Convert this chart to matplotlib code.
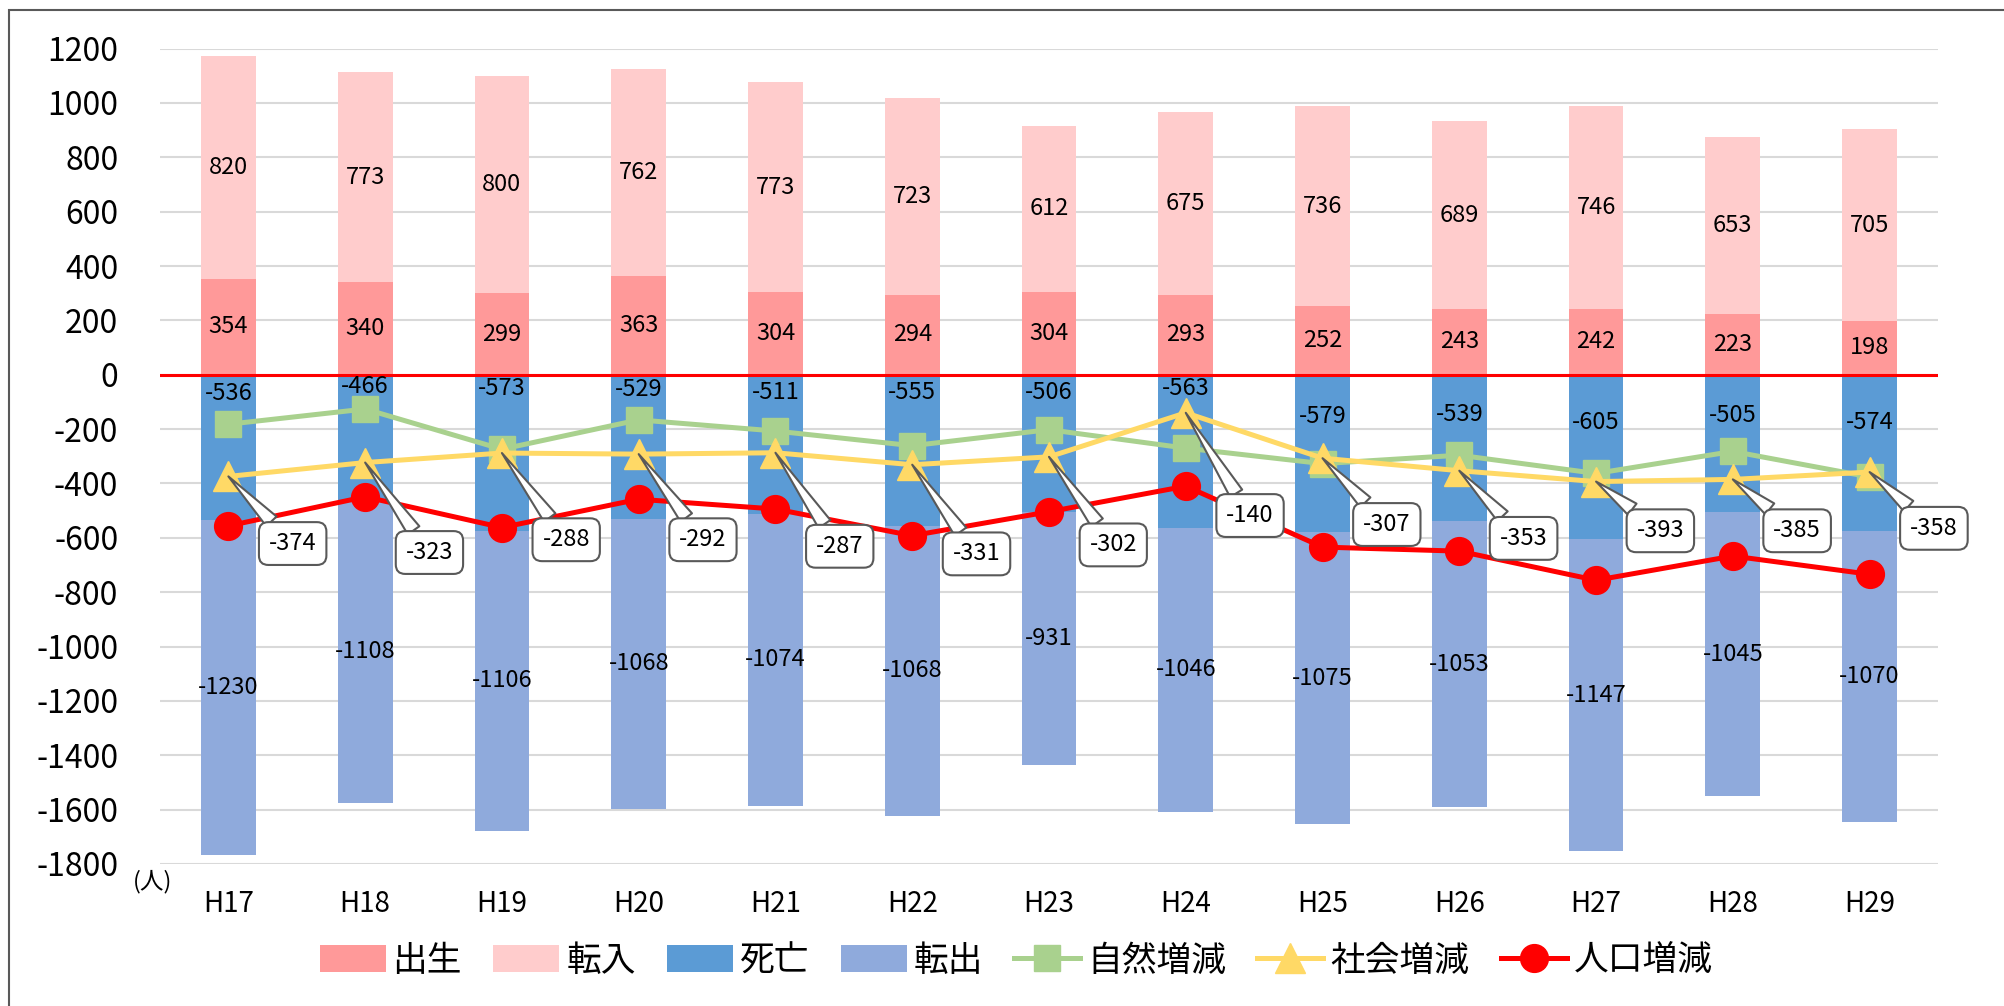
import matplotlib
matplotlib.use('Agg')
import matplotlib.pyplot as plt
from matplotlib.patches import Rectangle

plt.rcParams['font.family'] = ['Noto Sans CJK JP', 'DejaVu Sans']
plt.rcParams['axes.unicode_minus'] = False

# data (人)
years = ['H17', 'H18', 'H19', 'H20', 'H21', 'H22', 'H23', 'H24', 'H25', 'H26', 'H27', 'H28', 'H29']
birth = [354, 340, 299, 363, 304, 294, 304, 293, 252, 243, 242, 223, 198]
move_in = [820, 773, 800, 762, 773, 723, 612, 675, 736, 689, 746, 653, 705]
death = [-536, -466, -573, -529, -511, -555, -506, -563, -579, -539, -605, -505, -574]
move_out = [-1230, -1108, -1106, -1068, -1074, -1068, -931, -1046, -1075, -1053, -1147, -1045, -1070]
natural = [-182, -126, -274, -166, -207, -261, -202, -270, -327, -296, -363, -282, -376]
social = [-374, -323, -288, -292, -287, -331, -302, -140, -307, -353, -393, -385, -358]
population = [-556, -449, -562, -458, -494, -592, -504, -410, -634, -649, -756, -667, -734]

# label placement (layout only)
death_label_y = [-70, -44, -50, -56, -66, -66, -66, -52, -155, -146, -176, -150, -175]
callout_y = [-621, -654, -607, -607, -631, -659, -626, -518, -551, -602, -574, -574, -565]
callout_dx = 0.47

C_BIRTH = '#FF9999'
C_IN = '#FFCCCC'
C_DEATH = '#5B9BD5'
C_OUT = '#8FAADC'
C_NAT = '#A9D18E'
C_SOC = '#FFD966'
C_POP = '#FF0000'

fig = plt.figure(figsize=(20.04, 10.06), dpi=100)
ax = fig.add_axes([160 / 2004, 1 - 864 / 1006, (1938 - 160) / 2004, (864 - 48.6) / 1006])

x = list(range(len(years)))
w = 0.40
handles = []
handles.append(ax.bar(x, birth, w, color=C_BIRTH, label='出生', zorder=2))
handles.append(ax.bar(x, move_in, w, bottom=birth, color=C_IN, label='転入', zorder=2))
handles.append(ax.bar(x, death, w, color=C_DEATH, label='死亡', zorder=2))
handles.append(ax.bar(x, move_out, w, bottom=death, color=C_OUT, label='転出', zorder=2))

ax.axhline(0, color='#FF0000', lw=2.2, zorder=2.5)

handles += ax.plot(x, natural, color=C_NAT, lw=3.6, marker='s', ms=19, label='自然増減', zorder=3)
handles += ax.plot(x, social, color=C_SOC, lw=3.6, marker='^', ms=21, label='社会増減', zorder=3.1)
handles += ax.plot(x, population, color=C_POP, lw=3.6, marker='o', ms=20, label='人口増減', zorder=3.2)

# bar labels
for i in x:
    ax.text(i, birth[i] / 2, str(birth[i]), ha='center', va='center', fontsize=17, zorder=5)
    ax.text(i, birth[i] + move_in[i] / 2, str(move_in[i]), ha='center', va='center', fontsize=17, zorder=5)
    ax.text(i, death_label_y[i], str(death[i]), ha='center', va='center', fontsize=17, zorder=5)
    ax.text(i, death[i] + move_out[i] / 2, str(move_out[i]), ha='center', va='center', fontsize=17, zorder=5)

# callouts for 社会増減
for i in x:
    ax.annotate(str(social[i]), xy=(i, social[i]), xytext=(i + callout_dx, callout_y[i]),
                ha='center', va='center', fontsize=17, zorder=6,
                bbox=dict(boxstyle='round,pad=0.42,rounding_size=0.4', fc='white', ec='#595959', lw=1.5),
                arrowprops=dict(arrowstyle='wedge,tail_width=0.6', fc='white', ec='#595959', lw=1.5,
                                shrinkA=0, shrinkB=0))

ax.set_xlim(-0.5, len(years) - 0.5)
ax.set_ylim(-1800, 1200)
ax.set_yticks(range(-1800, 1201, 200))
ax.set_xticks(x)
ax.set_xticklabels(years)
ax.tick_params(axis='y', length=0, labelsize=23, pad=30)
ax.tick_params(axis='x', length=0, labelsize=20, pad=18)
ax.yaxis.grid(True, color='#D9D9D9', lw=1.5)
ax.set_axisbelow(True)
for s in ax.spines.values():
    s.set_visible(False)

fig.text(153 / 2004, 1 - 882 / 1006, '(人)', ha='center', va='center', fontsize=17)

fig.legend(handles=handles, loc='center', bbox_to_anchor=(1016 / 2004, 1 - 961 / 1006), ncol=7,
           frameon=False, fontsize=25, handlelength=1.9, handleheight=0.8, handletextpad=0.2,
           columnspacing=0.9)

# outer chart frame
fig.patches.append(Rectangle((9 / 2004, -0.1), 1.2, 1.1 - 10 / 1006, transform=fig.transFigure,
                             fill=False, ec='#595959', lw=1.5))

fig.savefig('out.png', dpi=100)
